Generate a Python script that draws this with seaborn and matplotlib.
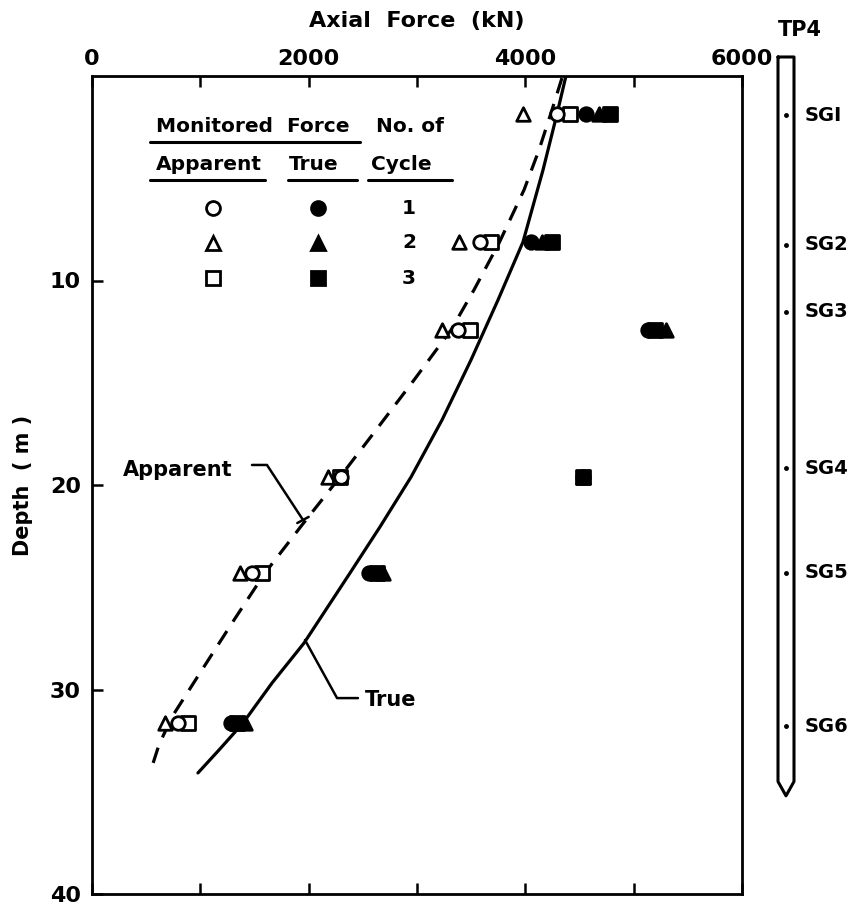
import matplotlib
matplotlib.use("Agg")
import matplotlib.pyplot as plt
from matplotlib.lines import Line2D
import seaborn as sns
import pandas as pd

# ---------------- data ----------------
depth_levels = [1.86, 8.12, 12.42, 19.61, 24.30, 31.64]

apparent_cycle1 = [4290, 3580, 3380, 2300, 1477, 794]   # open circle
apparent_cycle2 = [3980, 3390, 3230, 2178, 1366, 674]   # open triangle
apparent_cycle3 = [4410, 3680, 3490, 2290, 1570, 886]   # open square

true_cycle1 = [4560, 4050, 5130, 4530, 2560, 1280]      # filled circle
true_cycle2 = [4680, 4150, 5300, 4530, 2690, 1410]      # filled triangle
true_cycle3 = [4780, 4250, 5200, 4530, 2630, 1340]      # filled square

# fitted curves
apparent_curve_force = [4338, 4246, 4126, 3988, 3757, 3526, 3314, 2972, 2622, 2289, 1938,
                        1597, 1311, 997, 738, 618, 535]
apparent_curve_depth = [0.10, 1.66, 3.62, 5.57, 8.17, 10.46, 12.42, 14.87, 17.31, 19.61, 21.96,
                        24.30, 26.60, 29.19, 31.34, 32.71, 34.08]

true_curve_force = [4375, 4292, 4163, 3978, 3748, 3498, 3231, 2945, 2658, 2382, 1957,
                    1662, 1394, 1172, 978]
true_curve_depth = [0.0, 1.86, 4.60, 8.12, 10.95, 13.89, 16.82, 19.61, 22.05, 24.30, 27.73,
                    29.68, 31.64, 32.96, 34.08]

x_ticks = [0, 2000, 4000, 6000]
y_ticks = [10, 20, 30, 40]

sg_names = ["SGI", "SG2", "SG3", "SG4", "SG5", "SG6"]
sg_depths = [1.91, 8.26, 11.54, 19.17, 24.30, 31.8]
pile_top = -0.93
pile_shaft_end = 34.5
pile_tip = 35.2

# ---------------- style ----------------
sns.set_style("ticks")
plt.rcParams["font.family"] = ["DejaVu Sans"]
plt.rcParams["font.weight"] = "bold"
for k in ["text.color", "axes.labelcolor", "xtick.color", "ytick.color", "axes.edgecolor"]:
    plt.rcParams[k] = "black"

W, H = 858, 907
fig = plt.figure(figsize=(W / 100, H / 100), dpi=100)

L, R, T, B = 92, 742, 76, 894
ax = fig.add_axes([L / W, 1 - B / H, (R - L) / W, (B - T) / H])

ax.set_xlim(0, 6000)
ax.set_ylim(40, 0)

# curves
df_app = pd.DataFrame({"force": apparent_curve_force, "depth": apparent_curve_depth})
df_true = pd.DataFrame({"force": true_curve_force, "depth": true_curve_depth})
sns.lineplot(data=df_app, x="force", y="depth", sort=False, estimator=None,
             color="black", lw=2.3, ax=ax, linestyle=(0, (5, 3.5)))
sns.lineplot(data=df_true, x="force", y="depth", sort=False, estimator=None,
             color="black", lw=2.3, ax=ax)

ms = 95
def pts(vals, marker, filled):
    d = pd.DataFrame({"force": vals, "depth": depth_levels})
    sns.scatterplot(data=d, x="force", y="depth", marker=marker, s=ms,
                    facecolor="black" if filled else "white",
                    edgecolor="black", linewidth=2, ax=ax, zorder=5)

pts(apparent_cycle2, "^", False)
pts(apparent_cycle3, "s", False)
pts(apparent_cycle1, "o", False)
pts(true_cycle1, "o", True)
pts(true_cycle3, "s", True)
pts(true_cycle2, "^", True)

# curve labels with leaders
ax.text(286, 19.27, "Apparent", fontsize=15, fontweight="bold", va="center", ha="left")
ax.plot([1477, 1615, 1948], [19.02, 19.02, 21.71], color="black", lw=1.8)
ax.plot([1895, 2000], [21.86, 21.56], color="black", lw=1.8)
ax.text(2520, 30.51, "True", fontsize=15, fontweight="bold", va="center", ha="left")
ax.plot([2455, 2262, 1966], [30.42, 30.42, 27.58], color="black", lw=1.8)

# axes formatting
ax.xaxis.set_ticks_position("both")
ax.xaxis.set_label_position("top")
ax.set_xticks(x_ticks)
ax.set_xticks([1000, 3000, 5000], minor=True)
ax.tick_params(axis="x", which="both", top=True, bottom=True, labeltop=True, labelbottom=False,
               direction="in", length=8, width=1.8, labelsize=16, pad=5)
ax.set_yticks(y_ticks)
ax.tick_params(axis="y", which="both", left=True, right=False, direction="in",
               length=8, width=1.8, labelsize=16, pad=8)
for s in ax.spines.values():
    s.set_linewidth(2)
    s.set_color("black")
ax.set_xlabel("Axial  Force  (kN)", fontsize=16, fontweight="bold", labelpad=16)
ax.set_ylabel("Depth  ( m )", fontsize=15, fontweight="bold", labelpad=12)

# legend table (figure pixel coords)
def fx(px): return px / W
def fy(py): return 1 - py / H
tkw = dict(fontsize=14.5, fontweight="bold", transform=fig.transFigure, va="center")
fig.text(fx(156), fy(127), "Monitored  Force", **tkw)
fig.text(fx(376), fy(127), "No. of", **tkw)
fig.text(fx(156), fy(165), "Apparent", **tkw)
fig.text(fx(289), fy(165), "True", **tkw)
fig.text(fx(371), fy(165), "Cycle", **tkw)
for (x0, x1, y) in [(150, 360, 142), (150, 265, 180), (288, 357, 180), (368, 452, 180)]:
    fig.add_artist(Line2D([fx(x0), fx(x1)], [fy(y), fy(y)], color="black", lw=2.2,
                          transform=fig.transFigure))
rows = [("o", "1", 208), ("^", "2", 243), ("s", "3", 278)]
for mk, lab, y in rows:
    fig.add_artist(Line2D([fx(213)], [fy(y)], marker=mk, markersize=10, markerfacecolor="white",
                          markeredgecolor="black", markeredgewidth=2, linestyle="none",
                          transform=fig.transFigure))
    fig.add_artist(Line2D([fx(318)], [fy(y)], marker=mk, markersize=10, markerfacecolor="black",
                          markeredgecolor="black", markeredgewidth=2, linestyle="none",
                          transform=fig.transFigure))
    fig.text(fx(409), fy(y), lab, ha="center", **tkw)

# pile diagram (same depth scale)
axp = fig.add_axes([776 / W, 1 - B / H, 60 / W, (B - T) / H], sharey=ax)
axp.set_xlim(0, 60)
axp.set_ylim(40, 0)
axp.axis("off")
px_l, px_r, px_c = 2, 18, 10
axp.plot([px_l, px_l, px_c, px_r, px_r, px_l],
         [pile_top, pile_shaft_end, pile_tip, pile_shaft_end, pile_top, pile_top],
         color="black", lw=2.2, clip_on=False)
for nm, d in zip(sg_names, sg_depths):
    axp.plot([px_c], [d], marker="o", markersize=2.5, color="black", clip_on=False)
    axp.text(29, d, nm, fontsize=14, fontweight="bold", va="center", ha="left", clip_on=False)
fig.text(fx(800), fy(30), "TP4", fontsize=15, fontweight="bold", ha="center", va="center")

fig.savefig("out.png", dpi=100, facecolor="white")
